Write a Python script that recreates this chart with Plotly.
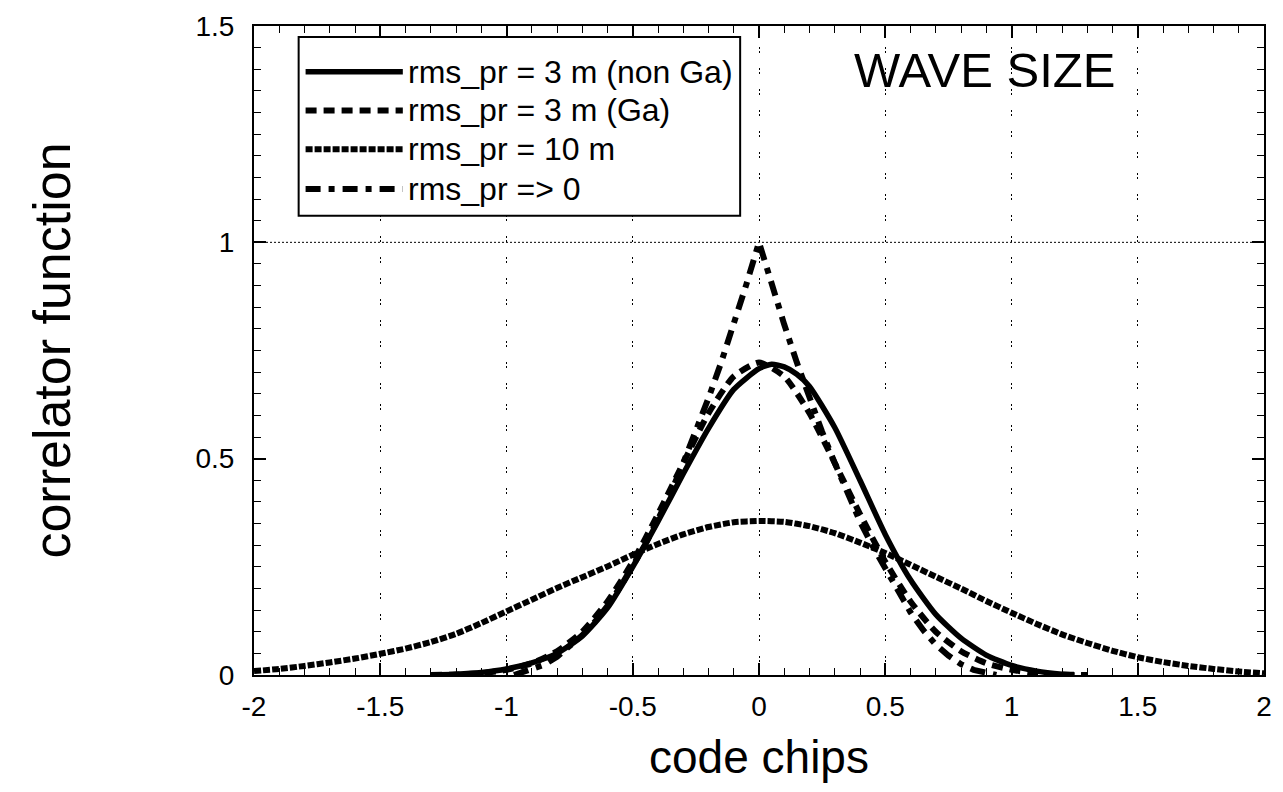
import plotly.graph_objects as go

# ---------------- data ----------------
x_10m = [-2.0, -1.9, -1.8, -1.7, -1.6, -1.5, -1.4, -1.3, -1.2, -1.1, -1.0,
         -0.9, -0.8, -0.7, -0.6, -0.5, -0.4, -0.3, -0.2, -0.1, 0.0,
         0.1, 0.2, 0.3, 0.4, 0.5, 0.6, 0.7, 0.8, 0.9, 1.0,
         1.1, 1.2, 1.3, 1.4, 1.5, 1.6, 1.7, 1.8, 1.9, 2.0]
y_10m = [0.009, 0.014, 0.021, 0.029, 0.038, 0.049, 0.061, 0.076, 0.095, 0.120, 0.147,
         0.174, 0.201, 0.226, 0.251, 0.278, 0.303, 0.325, 0.342, 0.353, 0.356,
         0.354, 0.344, 0.328, 0.306, 0.282, 0.255, 0.227, 0.200, 0.171, 0.144,
         0.118, 0.094, 0.074, 0.056, 0.041, 0.030, 0.021, 0.014, 0.008, 0.004]

x_nonga = [-1.3, -1.2, -1.1, -1.0, -0.9, -0.8, -0.7, -0.6, -0.5, -0.4, -0.3, -0.2, -0.1,
           0.0, 0.05, 0.1, 0.15, 0.2, 0.3, 0.4, 0.5, 0.6, 0.7, 0.8, 0.9, 1.0, 1.1, 1.2, 1.25]
y_nonga = [0.0, 0.002, 0.006, 0.014, 0.028, 0.050, 0.090, 0.155, 0.250, 0.355, 0.465, 0.570, 0.660,
           0.708, 0.718, 0.712, 0.695, 0.667, 0.572, 0.450, 0.325, 0.220, 0.140, 0.085, 0.046, 0.022,
           0.009, 0.002, 0.0]

x_ga = [-1.3, -1.2, -1.1, -1.0, -0.9, -0.8, -0.7, -0.6, -0.5, -0.4, -0.3, -0.2, -0.1, 0.0,
        0.1, 0.2, 0.3, 0.4, 0.5, 0.6, 0.7, 0.8, 0.9, 1.0, 1.1, 1.2, 1.3]
y_ga = [0.0, 0.001, 0.004, 0.012, 0.027, 0.055, 0.100, 0.170, 0.262, 0.372, 0.490, 0.605, 0.690, 0.722,
        0.690, 0.605, 0.490, 0.372, 0.262, 0.170, 0.100, 0.055, 0.027, 0.012, 0.004, 0.001, 0.0]

x_zero = [-0.97, -0.9, -0.85, -0.8, -0.75, -0.7, -0.65, -0.6, -0.55, -0.5, -0.45, -0.4, -0.35,
          -0.3, -0.25, -0.2, -0.15, -0.1, -0.05, 0.0, 0.05, 0.1, 0.15, 0.2, 0.25, 0.3, 0.35,
          0.4, 0.45, 0.5, 0.55, 0.6, 0.65, 0.7, 0.75, 0.8, 0.85, 0.9, 0.94]
y_zero = [0.0, 0.012, 0.024, 0.042, 0.065, 0.092, 0.123, 0.160, 0.203, 0.250, 0.302, 0.360, 0.420,
          0.490, 0.562, 0.640, 0.722, 0.810, 0.903, 1.0, 0.903, 0.810, 0.722, 0.640, 0.562, 0.490, 0.420,
          0.355, 0.298, 0.245, 0.193, 0.145, 0.104, 0.070, 0.045, 0.025, 0.012, 0.004, 0.0]

series_names = ["rms_pr = 3 m (non Ga)", "rms_pr = 3 m (Ga)", "rms_pr = 10 m", "rms_pr => 0"]

x_tickvals = [-2, -1.5, -1, -0.5, 0, 0.5, 1, 1.5, 2]
x_ticktext = ["-2", "-1.5", "-1", "-0.5", "0", "0.5", "1", "1.5", "2"]
y_tickvals = [0, 0.5, 1, 1.5]
y_ticktext = ["0", "0.5", "1", "1.5"]

# ---------------- styles ----------------
FONT = "Liberation Sans, Arial, Helvetica, sans-serif"
styles = [
    dict(color="black", width=5.5, dash="solid"),
    dict(color="black", width=6, dash="11px,7px"),
    dict(color="black", width=6, dash="7px,2px"),
    dict(color="black", width=6, dash="15px,8px,6px,8px"),
]
shapes_line = ["spline", "spline", "spline", "linear"]

fig = go.Figure()
data = [(x_nonga, y_nonga), (x_ga, y_ga), (x_10m, y_10m), (x_zero, y_zero)]
for (xs, ys), name, st, shp in zip(data, series_names, styles, shapes_line):
    fig.add_trace(go.Scatter(x=xs, y=ys, mode="lines", name=name,
                             line=dict(color=st["color"], width=st["width"], dash=st["dash"],
                                       shape=shp, smoothing=0.6 if shp == "spline" else None),
                             showlegend=False))

# reference line at y = 1
fig.add_hline(y=1, line=dict(color="black", width=1, dash="2px,2px"), layer="below")

# ---------------- layout geometry ----------------
W, H = 1283, 792
L, R, T, B = 254, 11, 22, 117
PW, PH = W - L - R, H - T - B


def px_x(px):
    return (px - L) / PW


def px_y(py):
    return (H - B - py) / PH


# custom legend (box with drop shadow, long line samples)
shapes = [
    dict(type="rect", xref="paper", yref="paper", x0=px_x(305), x1=px_x(750), y0=px_y(219), y1=px_y(39),
         fillcolor="black", line=dict(width=0), layer="above"),
    dict(type="rect", xref="paper", yref="paper", x0=px_x(299), x1=px_x(744), y0=px_y(213), y1=px_y(33),
         fillcolor="white", line=dict(color="black", width=2), layer="above"),
]
annotations = []
row_y = [68, 107, 146, 186]
for name, st, ry in zip(series_names, styles, row_y):
    shapes.append(dict(type="line", xref="paper", yref="paper", x0=px_x(306), x1=px_x(404),
                       y0=px_y(ry), y1=px_y(ry),
                       line=dict(color="black", width=st["width"], dash=st["dash"]), layer="above"))
    annotations.append(dict(xref="paper", yref="paper", x=px_x(407), y=px_y(ry), text=name,
                            showarrow=False, xanchor="left", yanchor="middle",
                            font=dict(family=FONT, size=32, color="black")))

annotations.append(dict(xref="paper", yref="paper", x=px_x(990), y=px_y(66), text="WAVE SIZE",
                        showarrow=False, xanchor="center", yanchor="middle",
                        font=dict(family=FONT, size=49, color="black")))

fig.update_layout(
    width=W, height=H,
    margin=dict(l=L, r=R, t=T, b=B, pad=0),
    paper_bgcolor="white", plot_bgcolor="white",
    font=dict(family=FONT, color="black"),
    shapes=shapes,
    annotations=annotations,
    showlegend=False,
)

fig.update_xaxes(
    range=[-2, 2], tickvals=x_tickvals, ticktext=x_ticktext,
    tickfont=dict(size=28), ticks="inside", ticklen=12, tickwidth=1.5, tickcolor="black",
    ticklabelstandoff=5,
    minor=dict(dtick=0.1, ticks="inside", ticklen=7, tickwidth=1, tickcolor="black", showgrid=False),
    showline=True, linecolor="black", linewidth=2, mirror="ticks",
    showgrid=True, gridcolor="black", gridwidth=1, griddash="2px,2px,2px,15px",
    zeroline=False,
    title=dict(text="code chips", font=dict(size=46), standoff=20),
)
fig.update_yaxes(
    range=[0, 1.5], tickvals=y_tickvals, ticktext=y_ticktext,
    tickfont=dict(size=28), ticks="inside", ticklen=12, tickwidth=1.5, tickcolor="black",
    ticklabelstandoff=12,
    minor=dict(dtick=0.05, ticks="inside", ticklen=7, tickwidth=1, tickcolor="black", showgrid=False),
    showline=True, linecolor="black", linewidth=2, mirror="ticks",
    showgrid=False, zeroline=False,
    title=dict(text="correlator function", font=dict(size=52), standoff=108),
)

fig.write_html("out.html")
